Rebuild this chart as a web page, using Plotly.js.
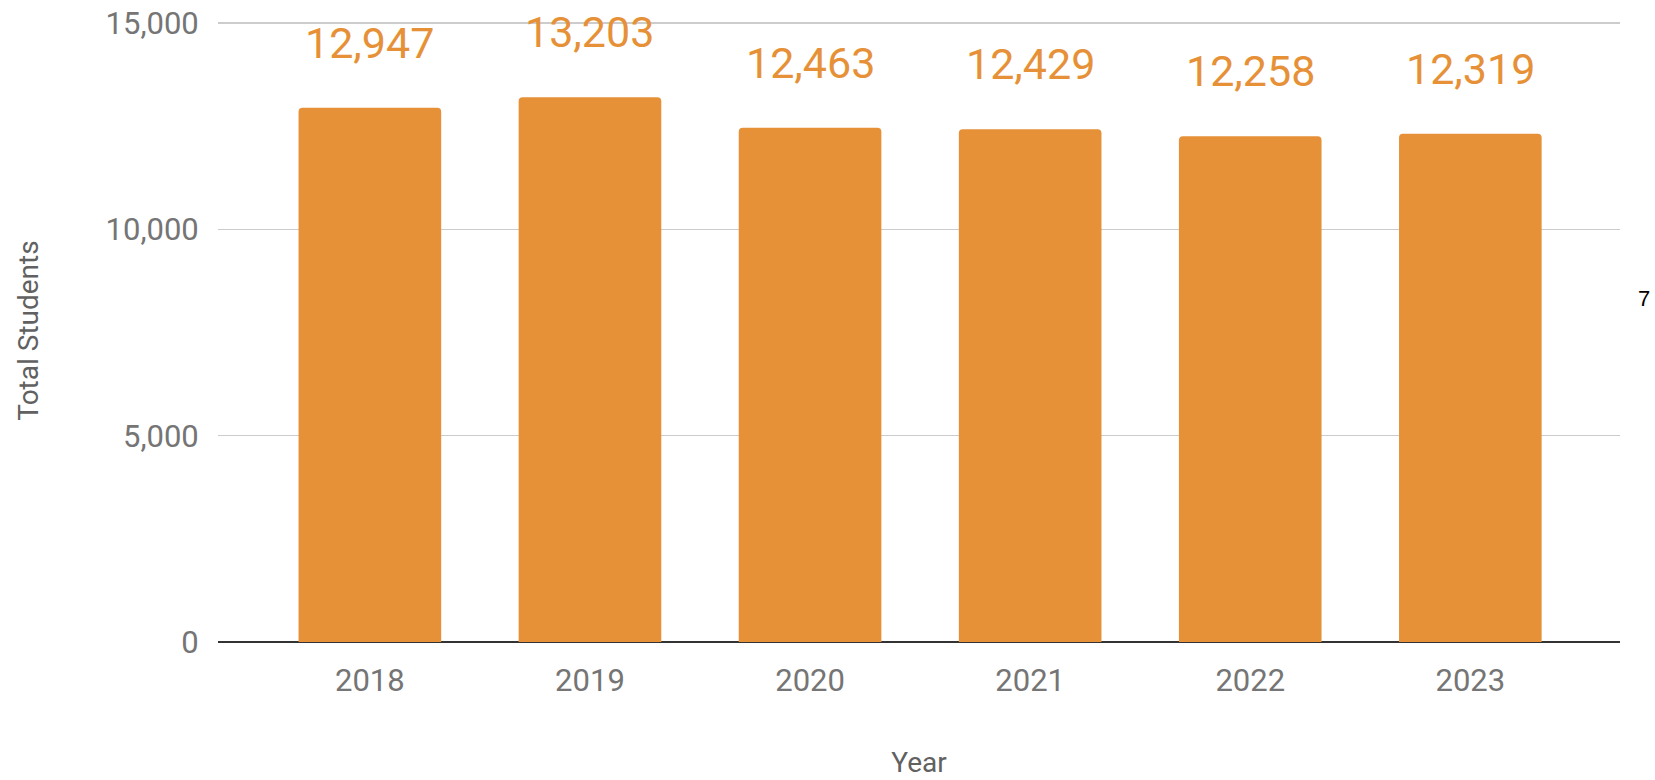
<!DOCTYPE html>
<html>
<head>
<meta charset="utf-8">
<script src="https://cdn.plot.ly/plotly-3.0.1.min.js"></script>
<style>html,body{margin:0;padding:0;background:#fff;}#chart{width:1655px;height:780px;}</style>
</head>
<body>
<div id="chart"></div>
<script>
const years = ["2018", "2019", "2020", "2021", "2022", "2023"];
const totalStudents = [12947, 13203, 12463, 12429, 12258, 12319];
const yTickVals = [0, 5000, 10000, 15000];
const yTickText = ["0", "5,000", "10,000", "15,000"];

const orange = "#E69138";
const labels = totalStudents.map(v => v.toLocaleString("en-US"));

const trace = {
  type: "bar",
  x: years,
  y: totalStudents,
  marker: { color: orange, cornerradius: 4 },
  width: 0.648,
  hoverinfo: "x+y"
};

const L = 218, R = 35, T = 19, B = 138, W = 1655, H = 780;

const annotations = years.map((yr, i) => ({
  x: i, y: totalStudents[i], xref: "x", yref: "y",
  text: labels[i], showarrow: false, yanchor: "bottom", yshift: 38,
  font: { family: "Roboto, sans-serif", size: 43, color: orange }
}));
annotations.push({
  x: (1644 - L) / (W - L - R), y: 1 - (298 - T) / (H - T - B),
  xref: "paper", yref: "paper", xanchor: "center", yanchor: "middle",
  text: "7", showarrow: false,
  font: { family: "Arial, Liberation Sans, sans-serif", size: 22, color: "#000" }
});

const layout = {
  width: W, height: H,
  margin: { l: L, r: R, t: T, b: B },
  paper_bgcolor: "#fff", plot_bgcolor: "#fff",
  font: { family: "Roboto, sans-serif", color: "#757575" },
  showlegend: false,
  xaxis: {
    type: "category",
    range: [-0.69, 5.68],
    tickfont: { size: 31, color: "#757575" },
    ticks: "outside", ticklen: 11, tickcolor: "rgba(0,0,0,0)",
    showgrid: false, zeroline: false, showline: false,
    title: { text: "Year", font: { size: 28, color: "#616161" }, standoff: 54 },
    automargin: false
  },
  yaxis: {
    range: [0, 15100],
    tickvals: yTickVals, ticktext: yTickText,
    tickfont: { size: 31, color: "#757575" },
    ticks: "outside", ticklen: 12, tickcolor: "rgba(0,0,0,0)",
    showgrid: true, gridcolor: "#cccccc", gridwidth: 1.5,
    zeroline: true, zerolinecolor: "#333333", zerolinewidth: 2,
    showline: false,
    title: { text: "Total Students", font: { size: 28, color: "#616161" }, standoff: 58 },
    automargin: false
  },
  annotations: annotations
};

Plotly.newPlot("chart", [trace], layout, { displayModeBar: false, staticPlot: true });
</script>
</body>
</html>
